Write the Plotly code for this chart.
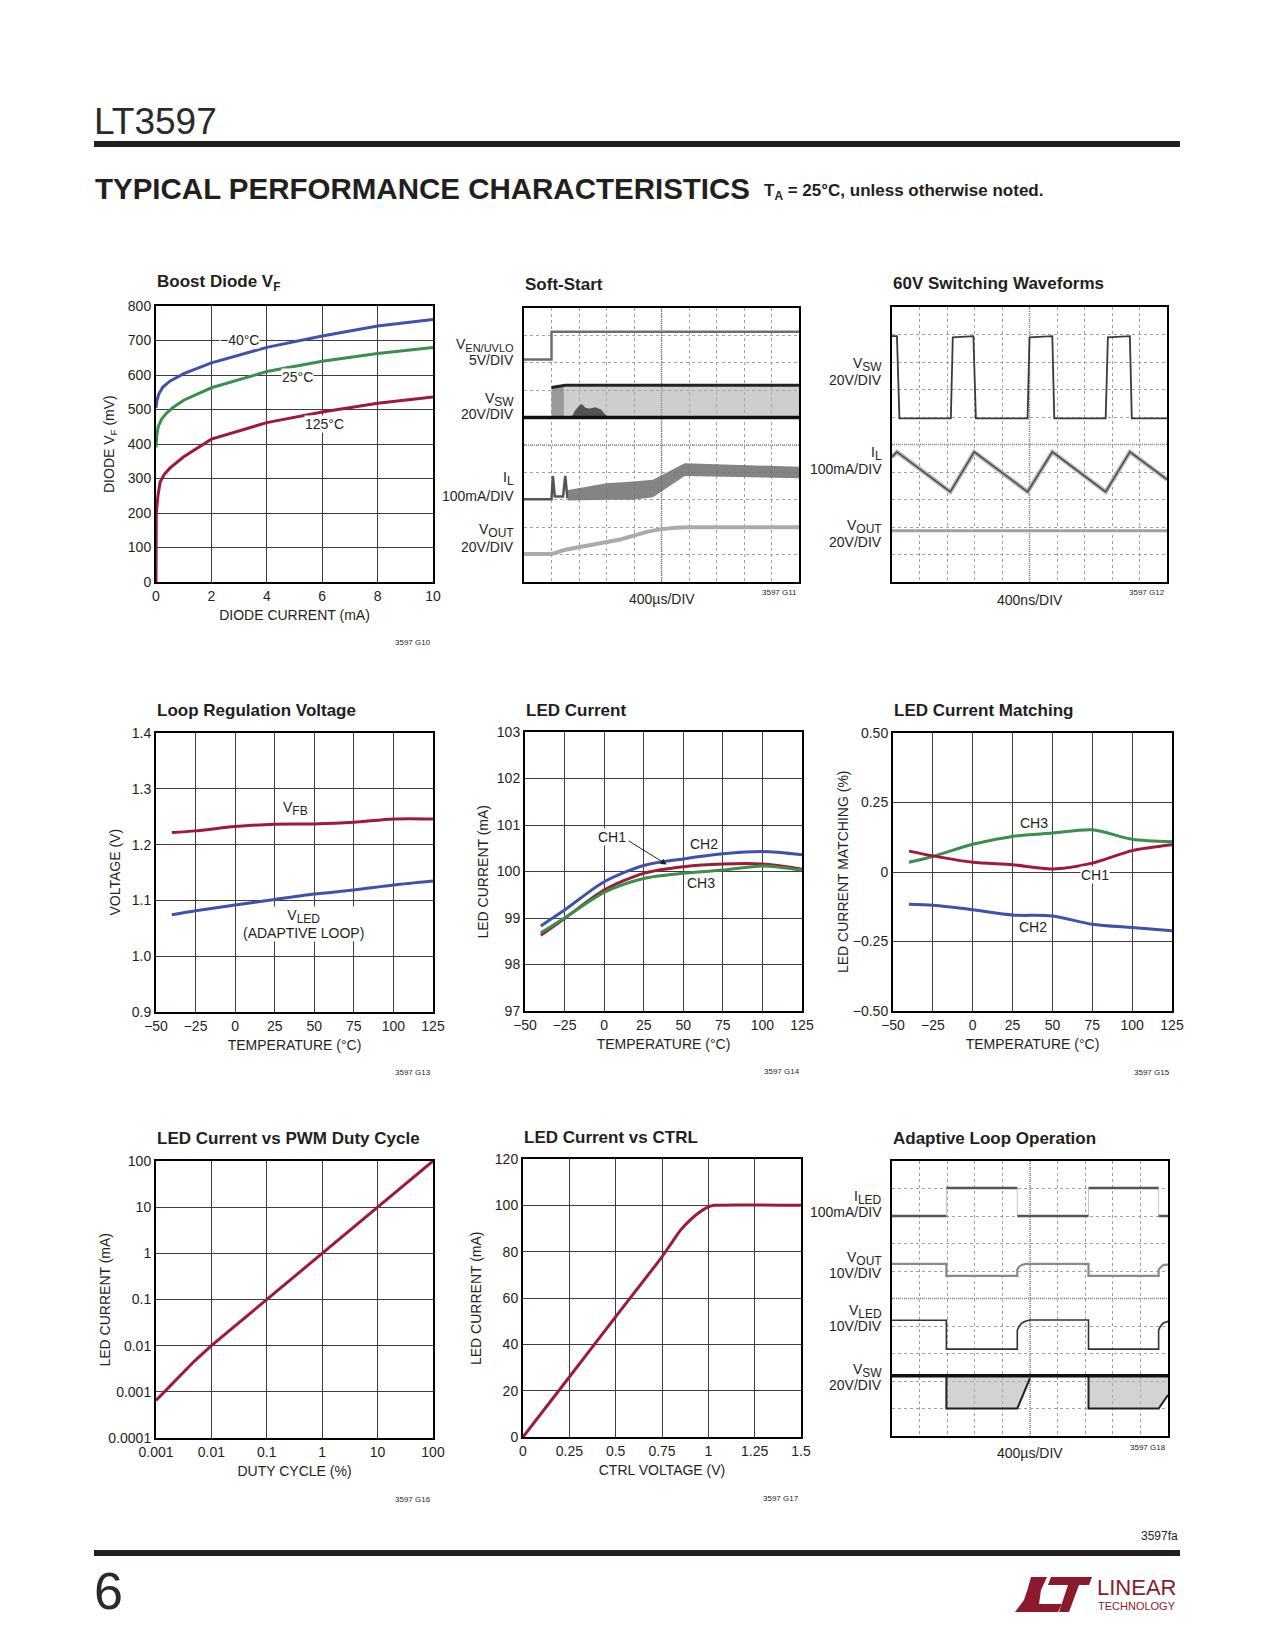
import plotly.graph_objects as go

W, H = 1275, 1650
def px(x): return x / W
def py(y): return 1 - y / H

FONT = "Liberation Sans Narrow, Arial Narrow, Liberation Sans, Arial, sans-serif"
INK = "#231f20"
RED = "#9e1a3c"
BLUE = "#4050ad"
GREEN = "#3a8f4a"

# ---------------- data ----------------
# Boost Diode VF
diode_i_m40 = [0, 0.03, 0.1, 0.25, 0.5, 1, 2, 4, 6, 8, 10]
diode_v_m40 = [505, 525, 545, 565, 582, 604, 635, 680, 713, 742, 761]
diode_i_25 = [0, 0.02, 0.08, 0.2, 0.35, 0.6, 1, 2, 4, 6, 8, 10]
diode_v_25 = [390, 420, 450, 472, 487, 505, 527, 563, 610, 640, 662, 680]
diode_i_125 = [0, 0.01, 0.07, 0.15, 0.3, 0.5, 1, 2, 4, 6, 8, 10]
diode_v_125 = [0, 200, 250, 290, 312, 330, 363, 414, 462, 493, 518, 536]

# Soft-Start (scope divisions)
ss_en_x = [0, 1.0, 1.0, 10]
ss_en_y = [8.12, 8.12, 9.13, 9.13]
ss_sw_base_x = [0, 10]
ss_sw_base_y = [6.0, 6.0]
ss_sw_top_x = [1.0, 1.5, 10]
ss_sw_top_y = [7.1, 7.18, 7.18]
ss_sw_band_x = [1.0, 10, 10, 1.0]
ss_sw_band_y = [6.0, 6.0, 7.18, 7.12]
ss_sw_dark_x = [1.0, 1.45, 1.45, 1.0]
ss_sw_dark_y = [6.0, 6.0, 7.16, 7.1]
ss_blob_x = [1.72, 1.85, 2.0, 2.1, 2.25, 2.4, 2.6, 2.8, 2.95, 3.1, 1.72]
ss_blob_y = [6.0, 6.25, 6.42, 6.5, 6.35, 6.33, 6.38, 6.3, 6.12, 6.0, 6.0]
ss_il_pre_x = [0, 1.0, 1.05, 1.12, 1.42, 1.5, 1.58]
ss_il_pre_y = [3.02, 3.02, 3.87, 3.12, 3.12, 3.87, 3.05]
ss_il_band_x = [1.6, 3.0, 3.96, 4.69, 5.84, 10, 10, 5.84, 4.69, 3.96, 3.0, 1.6]
ss_il_band_y = [3.36, 3.6, 3.67, 3.73, 4.33, 4.21, 3.79, 3.87, 3.09, 3.0, 3.0, 2.97]
ss_vout_x = [0, 1.0, 1.5, 2.5, 3.5, 4.5, 5.0, 5.5, 6.0, 10]
ss_vout_y = [1.02, 1.02, 1.18, 1.36, 1.55, 1.84, 1.93, 1.98, 2.0, 2.0]

# 60V Switching Waveforms
sw_vsw_x = [0, 0.18, 0.27, 2.14, 2.21, 2.96, 3.05, 4.93, 5.0, 5.83, 5.9, 7.77, 7.85, 8.65, 8.72, 10]
sw_vsw_y = [8.94, 8.94, 5.95, 5.95, 8.9, 8.94, 5.95, 5.95, 8.9, 8.94, 5.95, 5.95, 8.9, 8.94, 5.95, 5.95]
sw_il_x = [0, 0.18, 2.12, 2.99, 4.93, 5.83, 7.77, 8.65, 10]
sw_il_y = [4.55, 4.73, 3.28, 4.73, 3.28, 4.73, 3.28, 4.73, 3.73]
sw_vout_x = [0, 10]
sw_vout_y = [1.86, 1.86]

# Loop Regulation Voltage
temp = [-40, -25, 0, 25, 50, 75, 100, 125]
vfb = [1.2216, 1.2246, 1.2323, 1.2365, 1.237, 1.240, 1.246, 1.246]
vled = [1.0743, 1.0814, 1.0916, 1.1018, 1.1114, 1.1186, 1.1275, 1.1347]

# LED Current
iled_ch2 = [98.83, 99.17, 99.78, 100.13, 100.27, 100.38, 100.43, 100.36]
iled_ch1 = [98.63, 98.99, 99.60, 99.96, 100.10, 100.16, 100.16, 100.05]
iled_ch3 = [98.68, 99.00, 99.55, 99.85, 99.96, 100.03, 100.12, 100.03]

# LED Current Matching
match_ch3 = [0.035, 0.056, 0.100, 0.128, 0.140, 0.152, 0.118, 0.109]
match_ch1 = [0.075, 0.058, 0.035, 0.026, 0.011, 0.032, 0.077, 0.098]
match_ch2 = [-0.116, -0.120, -0.136, -0.155, -0.158, -0.188, -0.200, -0.211]

# LED Current vs PWM Duty Cycle
duty = [0.001, 0.002, 0.005, 0.01, 0.1, 1, 10, 100]
iled_pwm = [0.00065, 0.0015, 0.0047, 0.01, 0.1, 1, 10, 100]

# LED Current vs CTRL
ctrl_v = [0, 0.25, 0.5, 0.75, 0.8, 0.85, 0.9, 0.95, 1.0, 1.03, 1.5]
ctrl_i = [0, 25.9, 51.9, 77.8, 83.6, 89.3, 93.5, 96.9, 99.3, 100, 100]

# Adaptive Loop Operation
al_iled_x = [0, 1.97, None, 1.97, 4.54, None, 4.54, 7.12, None, 7.12, 9.66, None, 9.66, 10]
al_iled_y = [8.0, 8.0, None, 9.02, 9.02, None, 8.0, 8.0, None, 9.02, 9.02, None, 8.0, 8.0]
al_iled_edge_x = [1.97, 1.97, None, 4.54, 4.54, None, 7.12, 7.12, None, 9.66, 9.66]
al_iled_edge_y = [8.0, 9.02, None, 9.02, 8.0, None, 8.0, 9.02, None, 9.02, 8.0]
al_vout_x = [0, 1.97, 1.97, 4.54, 4.54, 4.6, 4.7, 4.85, 7.12, 7.12, 9.66, 9.66, 9.75, 9.85, 10]
al_vout_y = [6.26, 6.26, 5.82, 5.82, 6.05, 6.15, 6.22, 6.26, 6.26, 5.82, 5.82, 6.05, 6.15, 6.22, 6.23]
al_vled_x = [0, 1.97, 1.97, 4.54, 4.54, 4.6, 4.7, 4.85, 5.0, 7.12, 7.12, 9.66, 9.66, 9.72, 9.82, 10]
al_vled_y = [4.21, 4.21, 3.16, 3.16, 3.85, 3.98, 4.1, 4.18, 4.22, 4.22, 3.16, 3.16, 3.85, 3.98, 4.1, 4.17]
al_vsw_top_x = [0, 10]
al_vsw_top_y = [2.19, 2.19]
al_vsw_fill1_x = [1.97, 4.54, 5.0, 5.0, 1.97]
al_vsw_fill1_y = [1.0, 1.0, 2.1, 2.19, 2.19]
al_vsw_fill2_x = [7.12, 9.66, 10, 10, 7.12]
al_vsw_fill2_y = [1.0, 1.0, 1.49, 2.19, 2.19]
al_vsw_bot_x = [1.97, 1.97, 4.54, 5.0, None, 7.12, 7.12, 9.66, 10]
al_vsw_bot_y = [2.19, 1.0, 1.0, 2.1, None, 2.19, 1.0, 1.0, 1.49]

# ---------------- layout boxes (px) ----------------
boxes = {
    1: (156, 433, 306, 582),
    2: (524, 799, 308, 582),
    3: (892, 1167, 307, 582),
    4: (156, 433, 733, 1012),
    5: (525, 802, 732, 1011),
    6: (893, 1172, 733, 1011),
    7: (156, 433, 1161, 1438),
    8: (523, 801, 1159, 1437),
    9: (892, 1168, 1161, 1436),
}

fig = go.Figure()
layout = dict(
    width=W, height=H, margin=dict(l=0, r=0, t=0, b=0),
    paper_bgcolor="white", plot_bgcolor="white", showlegend=False,
    font=dict(family=FONT, color=INK, size=14),
)

def axname(i, a):
    return a + "axis" + ("" if i == 1 else str(i))

def ref(i, a):
    return a + ("" if i == 1 else str(i))

annotations = []
shapes = []

def ann(text, x, y, size=14, xanchor="center", yanchor="middle", xref="paper", yref="paper",
        color=INK, bg=None, family=FONT, **kw):
    if xref == "paper":
        x = px(x)
    if yref == "paper":
        y = py(y)
    d = dict(text=text, x=x, y=y, xref=xref, yref=yref, xanchor=xanchor, yanchor=yanchor,
             showarrow=False, font=dict(size=size, color=color, family=family), **kw)
    if bg:
        d["bgcolor"] = bg
        d["borderpad"] = 0
    annotations.append(d)

def sub(base, s, size=12):
    return base + "<sub><span style='font-size:%dpx'>%s</span></sub>" % (size, s)

def data_axes(i, xkw, ykw, xtitle, ytitle, ytitle_x):
    l, r, t, b = boxes[i]
    common = dict(showline=True, linewidth=2, linecolor="black", mirror=True,
                  showgrid=True, gridcolor="#3c3c3c", gridwidth=1, zeroline=False,
                  ticks="", tickfont=dict(size=14, color=INK, family=FONT), automargin=False)
    xa = dict(common, domain=[px(l), px(r)], anchor=ref(i, "y"),
              title=dict(text=xtitle, font=dict(size=14, color=INK, family=FONT), standoff=7), **xkw)
    ya = dict(common, domain=[py(b), py(t)], anchor=ref(i, "x"), **ykw)
    layout[axname(i, "x")] = xa
    layout[axname(i, "y")] = ya
    ann(ytitle, ytitle_x, (t + b) / 2, textangle=-90)

def scope_axes(i):
    l, r, t, b = boxes[i]
    common = dict(showline=True, linewidth=2, linecolor="black", mirror=True,
                  showgrid=True, gridcolor="#a0a0a0", gridwidth=1, griddash="dot",
                  zeroline=False, ticks="", showticklabels=False, range=[0, 10],
                  dtick=1, tick0=0, automargin=False, fixedrange=True)
    layout[axname(i, "x")] = dict(common, domain=[px(l), px(r)], anchor=ref(i, "y"))
    layout[axname(i, "y")] = dict(common, domain=[py(b), py(t)], anchor=ref(i, "x"))

def line(i, x, y, color, width=3, shape="linear", smoothing=1.0):
    fig.add_trace(go.Scatter(x=x, y=y, mode="lines", xaxis=ref(i, "x"), yaxis=ref(i, "y"),
                             line=dict(color=color, width=width, shape=shape, smoothing=smoothing),
                             hoverinfo="skip", connectgaps=False))

def fill(i, x, y, color):
    fig.add_trace(go.Scatter(x=x, y=y, mode="lines", fill="toself", fillcolor=color,
                             xaxis=ref(i, "x"), yaxis=ref(i, "y"),
                             line=dict(width=0, color=color), hoverinfo="skip"))

def title(i, text, y):
    l = boxes[i][0]
    ann("<b>" + text + "</b>", l - 1, y, size=17, xanchor="left")

def code(i, text, y):
    r = boxes[i][1]
    ann(text, r, y, size=8, xanchor="right")

# ---------- Chart 1: Boost Diode VF ----------
data_axes(1, dict(range=[0, 10], dtick=2), dict(range=[0, 800], dtick=100),
          "DIODE CURRENT (mA)", "DIODE V<sub>F</sub> (mV)", 110)
line(1, diode_i_m40, diode_v_m40, BLUE)
line(1, diode_i_25, diode_v_25, GREEN)
line(1, diode_i_125, diode_v_125, RED)
ann("\u221240\u00b0C", 3.0, 700, xref="x", yref="y", bg="white")
ann("25\u00b0C", 5.1, 593, xref="x", yref="y", bg="white")
ann("125\u00b0C", 6.1, 457, xref="x", yref="y", bg="white")
title(1, "Boost Diode V<sub>F</sub>", 283)
code(1, "3597 G10", 643)

# ---------- Chart 2: Soft-Start ----------
scope_axes(2)
fill(2, ss_sw_band_x, ss_sw_band_y, "rgba(165,165,165,0.55)")
fill(2, ss_sw_dark_x, ss_sw_dark_y, "rgba(120,120,120,0.6)")
fill(2, ss_blob_x, ss_blob_y, "rgba(70,70,70,0.9)")
line(2, ss_sw_base_x, ss_sw_base_y, "#111", 3.5)
line(2, ss_sw_top_x, ss_sw_top_y, "#222", 3)
line(2, ss_en_x, ss_en_y, "#6e6e6e", 2.5)
line(2, ss_il_pre_x, ss_il_pre_y, "#555", 2.5)
fill(2, ss_il_band_x, ss_il_band_y, "rgba(110,110,110,0.85)")
line(2, ss_vout_x, ss_vout_y, "#ababab", 4)
L2 = boxes[2][0] - 8
ann(sub("V", "EN/UVLO", 11), L2, 345, xanchor="right")
ann("5V/DIV", L2, 360, xanchor="right")
ann(sub("V", "SW"), L2, 399, xanchor="right")
ann("20V/DIV", L2, 414, xanchor="right")
ann(sub("I", "L"), L2, 479, xanchor="right")
ann("100mA/DIV", L2, 496, xanchor="right")
ann(sub("V", "OUT"), L2, 531, xanchor="right")
ann("20V/DIV", L2, 547, xanchor="right")
ann("400\u00b5s/DIV", (boxes[2][0] + boxes[2][1]) / 2, 599)
title(2, "Soft-Start", 284)
code(2, "3597 G11", 592)

# ---------- Chart 3: 60V Switching Waveforms ----------
scope_axes(3)
line(3, sw_vsw_x, sw_vsw_y, "#3a3a3a", 1.8)
line(3, sw_il_x, sw_il_y, "#b5b5b5", 4.5)
line(3, sw_il_x, sw_il_y, "#4a4a4a", 1.5)
line(3, sw_vout_x, sw_vout_y, "#a0a0a0", 3)
L3 = boxes[3][0] - 8
ann(sub("V", "SW"), L3, 365, xanchor="right")
ann("20V/DIV", L3, 380, xanchor="right")
ann(sub("I", "L"), L3, 453, xanchor="right")
ann("100mA/DIV", L3, 469, xanchor="right")
ann(sub("V", "OUT"), L3, 526, xanchor="right")
ann("20V/DIV", L3, 542, xanchor="right")
ann("400ns/DIV", (boxes[3][0] + boxes[3][1]) / 2, 600)
title(3, "60V Switching Waveforms", 283)
code(3, "3597 G12", 592)

# ---------- Chart 4: Loop Regulation Voltage ----------
data_axes(4, dict(range=[-50, 125], dtick=25), dict(range=[0.9, 1.4], dtick=0.1, tickformat=".1f"),
          "TEMPERATURE (\u00b0C)", "VOLTAGE (V)", 114)
line(4, temp, vfb, RED, 3, "spline", 0.8)
line(4, temp, vled, BLUE, 3, "spline", 0.8)
ann(sub("V", "FB"), 38, 1.265, xref="x4", yref="y4")
ann(sub("V", "LED") + "<br>(ADAPTIVE LOOP)", 43, 1.058, xref="x4", yref="y4", bg="white")
title(4, "Loop Regulation Voltage", 710)
code(4, "3597 G13", 1072)

# ---------- Chart 5: LED Current ----------
data_axes(5, dict(range=[-50, 125], dtick=25), dict(range=[97, 103], dtick=1),
          "TEMPERATURE (\u00b0C)", "LED CURRENT (mA)", 482)
line(5, temp, iled_ch2, BLUE, 3, "spline", 0.8)
line(5, temp, iled_ch1, RED, 3, "spline", 0.8)
line(5, temp, iled_ch3, GREEN, 3, "spline", 0.8)
ann("CH1", 5, 100.75, xref="x5", yref="y5", bg="white")
ann("CH2", 63, 100.59, xref="x5", yref="y5")
ann("CH3", 61.5, 99.76, xref="x5", yref="y5")
annotations.append(dict(x=39.5, y=100.15, ax=14.5, ay=100.68, xref="x5", yref="y5",
                        axref="x5", ayref="y5", text="", showarrow=True, arrowhead=2,
                        arrowsize=1.2, arrowwidth=1, arrowcolor=INK))
title(5, "LED Current", 710)
code(5, "3597 G14", 1071)

# ---------- Chart 6: LED Current Matching ----------
data_axes(6, dict(range=[-50, 125], dtick=25),
          dict(range=[-0.5, 0.5], tickvals=[-0.5, -0.25, 0, 0.25, 0.5],
               ticktext=["\u22120.50", "\u22120.25", "0", "0.25", "0.50"]),
          "TEMPERATURE (\u00b0C)", "LED CURRENT MATCHING (%)", 843)
line(6, temp, match_ch3, GREEN, 3, "spline", 0.8)
line(6, temp, match_ch1, RED, 3, "spline", 0.8)
line(6, temp, match_ch2, BLUE, 3, "spline", 0.8)
ann("CH3", 38.5, 0.178, xref="x6", yref="y6")
ann("CH1", 77, -0.01, xref="x6", yref="y6", bg="white")
ann("CH2", 38, -0.199, xref="x6", yref="y6")
title(6, "LED Current Matching", 710)
code(6, "3597 G15", 1072)

# ---------- Chart 7: LED Current vs PWM Duty Cycle ----------
data_axes(7, dict(type="log", range=[-3, 2], tickvals=[0.001, 0.01, 0.1, 1, 10, 100],
                  ticktext=["0.001", "0.01", "0.1", "1", "10", "100"]),
          dict(type="log", range=[-4, 2], tickvals=[0.0001, 0.001, 0.01, 0.1, 1, 10, 100],
               ticktext=["0.0001", "0.001", "0.01", "0.1", "1", "10", "100"]),
          "DUTY CYCLE (%)", "LED CURRENT (mA)", 104)
line(7, duty, iled_pwm, RED, 3)
title(7, "LED Current vs PWM Duty Cycle", 1138)
code(7, "3597 G16", 1499)

# ---------- Chart 8: LED Current vs CTRL ----------
data_axes(8, dict(range=[0, 1.5], dtick=0.25), dict(range=[0, 120], dtick=20),
          "CTRL VOLTAGE (V)", "LED CURRENT (mA)", 476)
line(8, ctrl_v, ctrl_i, RED, 3, "spline", 0.5)
title(8, "LED Current vs CTRL", 1137)
code(8, "3597 G17", 1498)

# ---------- Chart 9: Adaptive Loop Operation ----------
scope_axes(9)
fill(9, al_vsw_fill1_x, al_vsw_fill1_y, "rgba(175,175,175,0.55)")
fill(9, al_vsw_fill2_x, al_vsw_fill2_y, "rgba(175,175,175,0.55)")
line(9, al_vsw_bot_x, al_vsw_bot_y, "#222", 2)
line(9, al_vsw_top_x, al_vsw_top_y, "#111", 3.5)
line(9, al_iled_edge_x, al_iled_edge_y, "#c8c8c8", 1)
line(9, al_iled_x, al_iled_y, "#555", 2.5)
line(9, al_vout_x, al_vout_y, "#8a8a8a", 2.2)
line(9, al_vled_x, al_vled_y, "#333", 1.6)
L9 = boxes[9][0] - 8
ann(sub("I", "LED"), L9, 1197, xanchor="right")
ann("100mA/DIV", L9, 1212, xanchor="right")
ann(sub("V", "OUT"), L9, 1258, xanchor="right")
ann("10V/DIV", L9, 1273, xanchor="right")
ann(sub("V", "LED"), L9, 1311, xanchor="right")
ann("10V/DIV", L9, 1326, xanchor="right")
ann(sub("V", "SW"), L9, 1370, xanchor="right")
ann("20V/DIV", L9, 1385, xanchor="right")
ann("400\u00b5s/DIV", (boxes[9][0] + boxes[9][1]) / 2, 1453)
title(9, "Adaptive Loop Operation", 1138)
code(9, "3597 G18", 1447)

# scope center lines
for i in (2, 3, 9):
    for d in (dict(x0=5, x1=5, y0=0, y1=10), dict(x0=0, x1=10, y0=5, y1=5)):
        shapes.append(dict(type="line", xref=ref(i, "x"), yref=ref(i, "y"),
                           line=dict(color="#808080", width=1.5, dash="1px,1px"), layer="below", **d))

# ---------------- page furniture ----------------
ann("LT3597", 92, 121, size=37, xanchor="left", color="#2a2a2a")
shapes.append(dict(type="rect", xref="paper", yref="paper", x0=px(94), x1=px(1180), y0=py(147), y1=py(141),
                   fillcolor=INK, line=dict(width=0)))
ann("<b>TYPICAL PERFORMANCE CHARACTERISTICS</b>", 93, 189, size=29.5, xanchor="left")
ann("<b>T<sub>A</sub> = 25\u00b0C, unless otherwise noted.</b>", 762, 192, size=17, xanchor="left")

ann("3597fa", 1180, 1536, size=12, xanchor="right")
shapes.append(dict(type="rect", xref="paper", yref="paper", x0=px(94), x1=px(1180), y0=py(1556), y1=py(1550),
                   fillcolor=INK, line=dict(width=0)))
ann("6", 92, 1591, size=52, xanchor="left", color="#2a2a2a")

LOGO = "#8b1a2e"
def pth(points):
    return "M " + " L ".join(f"{px(a):.5f},{py(b):.5f}" for a, b in points) + " Z"
shapes.append(dict(type="path", xref="paper", yref="paper", fillcolor=LOGO, line=dict(width=0),
                   path=pth([(1031, 1577), (1047, 1577), (1041, 1590), (1039, 1604), (1062, 1604),
                             (1058, 1612), (1015, 1612), (1024, 1600), (1028, 1588)])))
shapes.append(dict(type="path", xref="paper", yref="paper", fillcolor=LOGO, line=dict(width=0),
                   path=pth([(1051, 1577), (1092, 1577), (1089, 1585), (1079, 1585), (1069, 1612),
                             (1059, 1612), (1068, 1585), (1048, 1585)])))
ann("LINEAR", 1095, 1587, size=22, xanchor="left", color=LOGO)
ann("TECHNOLOGY", 1096, 1606, size=11, xanchor="left", color=LOGO)

layout["annotations"] = annotations
layout["shapes"] = shapes
fig.update_layout(**layout)
fig.write_html("out.html", config={"displayModeBar": False},
               post_script="document.body.style.margin='0';")
